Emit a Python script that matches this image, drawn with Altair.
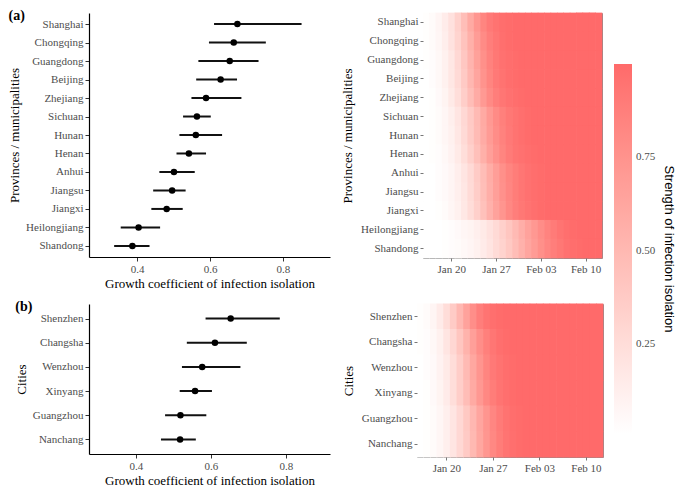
import altair as alt
import pandas as pd

# ---------------- data ----------------
prov = ["Shanghai", "Chongqing", "Guangdong", "Beijing", "Zhejiang", "Sichuan", "Hunan",
        "Henan", "Anhui", "Jiangsu", "Jiangxi", "Heilongjiang", "Shandong"]
prov_pt = [0.675, 0.665, 0.654, 0.629, 0.589, 0.564, 0.561, 0.542, 0.501, 0.496, 0.481, 0.404, 0.387]
prov_lo = [0.611, 0.597, 0.568, 0.562, 0.549, 0.526, 0.516, 0.508, 0.461, 0.444, 0.439, 0.355, 0.337]
prov_hi = [0.851, 0.753, 0.733, 0.674, 0.686, 0.602, 0.633, 0.589, 0.558, 0.533, 0.525, 0.463, 0.434]

city = ["Shenzhen", "Changsha", "Wenzhou", "Xinyang", "Guangzhou", "Nanchang"]
city_pt = [0.653, 0.611, 0.577, 0.558, 0.519, 0.518]
city_lo = [0.586, 0.536, 0.523, 0.517, 0.478, 0.467]
city_hi = [0.784, 0.696, 0.679, 0.603, 0.588, 0.560]

dates = ["Jan 16", "Jan 17", "Jan 18", "Jan 19", "Jan 20", "Jan 21", "Jan 22", "Jan 23",
         "Jan 24", "Jan 25", "Jan 26", "Jan 27", "Jan 28", "Jan 29", "Jan 30", "Jan 31",
         "Feb 01", "Feb 02", "Feb 03", "Feb 04", "Feb 05", "Feb 06", "Feb 07", "Feb 08",
         "Feb 09", "Feb 10", "Feb 11", "Feb 12"]
date_ticks = ["Jan 20", "Jan 27", "Feb 03", "Feb 10"]

prov_strength = {
    "Shanghai":     [0.02, 0.04, 0.08, 0.14, 0.22, 0.33, 0.46, 0.60, 0.73, 0.84, 0.91, 0.95, 0.98, 0.99,
                     1.00, 1.00, 1.00, 1.00, 1.00, 1.00, 1.00, 1.00, 1.00, 1.00, 1.00, 1.00, 1.00, 1.00],
    "Chongqing":    [0.02, 0.04, 0.07, 0.13, 0.21, 0.31, 0.43, 0.56, 0.69, 0.80, 0.88, 0.93, 0.97, 0.99,
                     1.00, 1.00, 1.00, 1.00, 1.00, 1.00, 1.00, 1.00, 1.00, 1.00, 1.00, 1.00, 1.00, 1.00],
    "Guangdong":    [0.02, 0.03, 0.06, 0.11, 0.18, 0.28, 0.40, 0.53, 0.66, 0.77, 0.86, 0.92, 0.96, 0.98,
                     0.99, 1.00, 1.00, 1.00, 1.00, 1.00, 1.00, 1.00, 1.00, 1.00, 1.00, 1.00, 1.00, 1.00],
    "Beijing":      [0.01, 0.03, 0.06, 0.11, 0.18, 0.27, 0.38, 0.51, 0.63, 0.75, 0.84, 0.91, 0.95, 0.98,
                     0.99, 1.00, 1.00, 1.00, 1.00, 1.00, 1.00, 1.00, 1.00, 1.00, 1.00, 1.00, 1.00, 1.00],
    "Zhejiang":     [0.01, 0.02, 0.05, 0.09, 0.16, 0.24, 0.35, 0.47, 0.59, 0.71, 0.81, 0.88, 0.93, 0.96,
                     0.98, 0.99, 1.00, 1.00, 1.00, 1.00, 1.00, 1.00, 1.00, 1.00, 1.00, 1.00, 1.00, 1.00],
    "Sichuan":      [0.01, 0.02, 0.04, 0.07, 0.12, 0.19, 0.28, 0.38, 0.49, 0.60, 0.71, 0.80, 0.87, 0.92,
                     0.95, 0.97, 0.99, 1.00, 1.00, 1.00, 1.00, 1.00, 1.00, 1.00, 1.00, 1.00, 1.00, 1.00],
    "Hunan":        [0.01, 0.02, 0.04, 0.07, 0.11, 0.18, 0.27, 0.37, 0.48, 0.59, 0.70, 0.79, 0.86, 0.91,
                     0.95, 0.97, 0.99, 1.00, 1.00, 1.00, 1.00, 1.00, 1.00, 1.00, 1.00, 1.00, 1.00, 1.00],
    "Henan":        [0.01, 0.02, 0.03, 0.06, 0.10, 0.16, 0.24, 0.34, 0.45, 0.56, 0.67, 0.76, 0.84, 0.90,
                     0.94, 0.96, 0.98, 0.99, 1.00, 1.00, 1.00, 1.00, 1.00, 1.00, 1.00, 1.00, 1.00, 1.00],
    "Anhui":        [0.01, 0.01, 0.03, 0.05, 0.08, 0.13, 0.19, 0.27, 0.37, 0.47, 0.58, 0.68, 0.77, 0.84,
                     0.89, 0.93, 0.96, 0.98, 0.99, 1.00, 1.00, 1.00, 1.00, 1.00, 1.00, 1.00, 1.00, 1.00],
    "Jiangsu":      [0.01, 0.01, 0.03, 0.05, 0.08, 0.12, 0.18, 0.26, 0.36, 0.46, 0.57, 0.67, 0.76, 0.83,
                     0.89, 0.93, 0.96, 0.98, 0.99, 1.00, 1.00, 1.00, 1.00, 1.00, 1.00, 1.00, 1.00, 1.00],
    "Jiangxi":      [0.01, 0.01, 0.02, 0.04, 0.07, 0.11, 0.17, 0.25, 0.34, 0.44, 0.55, 0.65, 0.74, 0.82,
                     0.88, 0.92, 0.95, 0.97, 0.99, 1.00, 1.00, 1.00, 1.00, 1.00, 1.00, 1.00, 1.00, 1.00],
    "Heilongjiang": [0.00, 0.01, 0.01, 0.02, 0.03, 0.05, 0.07, 0.09, 0.12, 0.16, 0.21, 0.27, 0.34, 0.41,
                     0.49, 0.57, 0.65, 0.72, 0.79, 0.85, 0.90, 0.94, 0.97, 0.99, 1.00, 1.00, 1.00, 1.00],
    "Shandong":     [0.00, 0.00, 0.01, 0.02, 0.03, 0.04, 0.06, 0.08, 0.11, 0.15, 0.20, 0.26, 0.32, 0.39,
                     0.47, 0.55, 0.63, 0.70, 0.77, 0.83, 0.88, 0.92, 0.96, 0.98, 0.99, 1.00, 1.00, 1.00],
}

city_strength = {
    "Shenzhen":  [0.02, 0.04, 0.08, 0.15, 0.25, 0.37, 0.51, 0.65, 0.78, 0.88, 0.94, 0.97, 0.99, 1.00,
                  1.00, 1.00, 1.00, 1.00, 1.00, 1.00, 1.00, 1.00, 1.00, 1.00, 1.00, 1.00, 1.00, 1.00],
    "Changsha":  [0.02, 0.03, 0.06, 0.11, 0.19, 0.29, 0.41, 0.54, 0.67, 0.78, 0.87, 0.93, 0.97, 0.99,
                  1.00, 1.00, 1.00, 1.00, 1.00, 1.00, 1.00, 1.00, 1.00, 1.00, 1.00, 1.00, 1.00, 1.00],
    "Wenzhou":   [0.01, 0.03, 0.05, 0.10, 0.16, 0.25, 0.36, 0.49, 0.62, 0.74, 0.84, 0.91, 0.95, 0.98,
                  0.99, 1.00, 1.00, 1.00, 1.00, 1.00, 1.00, 1.00, 1.00, 1.00, 1.00, 1.00, 1.00, 1.00],
    "Xinyang":   [0.01, 0.02, 0.05, 0.09, 0.15, 0.24, 0.35, 0.47, 0.60, 0.72, 0.82, 0.89, 0.94, 0.97,
                  0.99, 1.00, 1.00, 1.00, 1.00, 1.00, 1.00, 1.00, 1.00, 1.00, 1.00, 1.00, 1.00, 1.00],
    "Guangzhou": [0.01, 0.02, 0.04, 0.07, 0.12, 0.19, 0.28, 0.39, 0.51, 0.63, 0.74, 0.83, 0.90, 0.95,
                  0.98, 0.99, 1.00, 1.00, 1.00, 1.00, 1.00, 1.00, 1.00, 1.00, 1.00, 1.00, 1.00, 1.00],
    "Nanchang":  [0.01, 0.02, 0.04, 0.07, 0.12, 0.19, 0.28, 0.38, 0.50, 0.62, 0.73, 0.82, 0.89, 0.94,
                  0.97, 0.99, 1.00, 1.00, 1.00, 1.00, 1.00, 1.00, 1.00, 1.00, 1.00, 1.00, 1.00, 1.00],
}

SERIF = "Liberation Serif"
SANS = "Liberation Sans"
XTITLE = "Growth coefficient of infection isolation"


def dotplot(names, pt, lo, hi, ytitle, xdomain, width, height, label):
    df = pd.DataFrame({"name": names, "pt": pt, "lo": lo, "hi": hi})
    axis_common = dict(domainColor="black", domainWidth=1.2, tickColor="#333333", tickSize=4,
                       labelColor="#4D4D4D", labelFont=SERIF, labelFontSize=11, grid=False,
                       titleFont=SERIF, titleFontSize=13, titleFontWeight="normal",
                       titleColor="black")
    y = alt.Y("name:N", sort=names, title=ytitle,
              scale=alt.Scale(type="point", padding=0.6),
              axis=alt.Axis(labelPadding=2, titlePadding=4, **axis_common))
    xscale = alt.Scale(domain=xdomain, nice=False, zero=False)
    xaxis = alt.Axis(values=[0.4, 0.6, 0.8], format=".1f", labelPadding=2, titlePadding=3,
                     **axis_common)
    base = alt.Chart(df)
    rules = base.mark_rule(strokeWidth=2, color="#111111").encode(
        x=alt.X("lo:Q", scale=xscale, axis=xaxis, title=XTITLE),
        x2="hi:Q",
        y=y,
    )
    pts = base.mark_circle(size=42, color="black", opacity=1).encode(
        x=alt.X("pt:Q", scale=xscale, axis=xaxis, title=XTITLE),
        y=y,
    )
    return alt.layer(rules, pts).properties(
        width=width, height=height,
        title=alt.TitleParams(label, anchor="start", frame="bounds", offset=-10,
                              font=SERIF, fontSize=14, fontWeight="bold", color="black"),
        view=alt.ViewBackground(stroke="transparent"),
    )


legend = alt.Legend(
    orient="none", legendX=525, legendY=51, direction="vertical",
    gradientLength=370, gradientThickness=18, gradientStrokeWidth=0,
    values=[0.25, 0.5, 0.75], format=".2f",
    labelFont=SERIF, labelFontSize=11, labelColor="#4D4D4D", labelOffset=4,
    title="Strength of infection isolation", titleOrient="right", titleAnchor="middle",
    titleFont=SANS, titleFontSize=13, titleFontWeight="normal", titleColor="black",
    titlePadding=7,
)
color_scale = alt.Scale(domain=[0.01, 1.0], range=["#FFFFFF", "#FF6A6A"],
                        interpolate="lab", clamp=True)


def heatmap(names, strength, ytitle, width, height):
    rows = []
    for n in names:
        for d, v in zip(dates, strength[n]):
            rows.append({"name": n, "date": d, "val": v})
    df = pd.DataFrame(rows)
    axis_common = dict(domain=False, tickColor="#777777", tickSize=3, labelPadding=2,
                       labelColor="#4D4D4D", labelFont=SERIF, labelFontSize=11, grid=False,
                       titleFont=SERIF, titleFontSize=13, titleFontWeight="normal",
                       titleColor="black")
    return alt.Chart(df).mark_rect(
        width=alt.RelativeBandSize(band=1.1), height=alt.RelativeBandSize(band=1.04)
    ).encode(
        x=alt.X("date:O", sort=dates, title=None,
                scale=alt.Scale(paddingInner=0, paddingOuter=0),
                axis=alt.Axis(values=date_ticks, labelAngle=0, **axis_common)),
        y=alt.Y("name:N", sort=names, title=ytitle,
                scale=alt.Scale(paddingInner=0, paddingOuter=0),
                axis=alt.Axis(titlePadding=6, **axis_common)),
        color=alt.Color("val:Q", scale=color_scale, legend=legend),
    ).properties(width=width, height=height,
                 view=alt.ViewBackground(stroke="#8C8C8C", strokeWidth=1))


A = dotplot(prov, prov_pt, prov_lo, prov_hi, "Provinces / municipalities",
            [0.268, 0.929], 241, 244, "(a)")
B = dotplot(city, city_pt, city_lo, city_hi, "Cities", [0.275, 0.918], 241, 150, "(b)")
HA = heatmap(prov, prov_strength, "Provinces / municipalities", 179, 245)
HB = heatmap(city, city_strength, "Cities", 186, 153)

chart = alt.vconcat(
    alt.hconcat(A, HA, spacing=10),
    alt.hconcat(B, HB, spacing=10),
    spacing=8,
).resolve_scale(color="shared").properties(padding=0).configure(
    background="white"
).configure_view(stroke=None)

chart.save("out.html", embed_options={"renderer": "svg", "actions": False})
